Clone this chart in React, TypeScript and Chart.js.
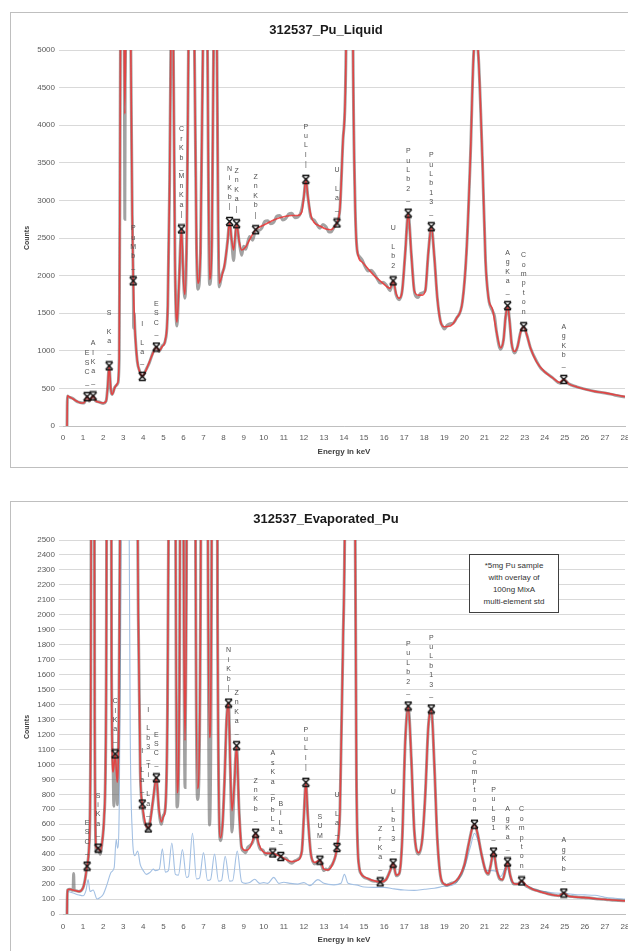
import React, { useEffect, useRef } from "react";
import { Chart, registerables } from "chart.js";

Chart.register(...registerables);

type Pt = [number, number];

const FONT = "'Liberation Sans', Arial, sans-serif";

// ---------- Top chart: 312537_Pu_Liquid ----------
const topTitle = "312537_Pu_Liquid";

const topFit: Pt[] = [
  [0.2, 0], [0.22, 400], [0.3, 390], [0.5, 360], [0.7, 330], [0.9, 305], [1.05, 310], [1.2, 390], [1.3, 340], [1.38, 350],
  [1.5, 400], [1.62, 340], [1.8, 315], [2.0, 305], [2.15, 330], [2.22, 500], [2.3, 800], [2.38, 500], [2.45, 420], [2.6, 520],
  [2.72, 570], [2.8, 900], [2.86, 5000], [2.95, 9000], [3.03, 6000], [3.08, 4150], [3.15, 6000], [3.25, 9000], [3.38, 5000],
  [3.45, 2800], [3.5, 1930], [3.58, 1300], [3.7, 870], [3.82, 720], [3.95, 660], [4.1, 720], [4.3, 850], [4.5, 980], [4.65, 1050],
  [4.78, 1000], [4.95, 1060], [5.1, 1150], [5.22, 1600], [5.3, 3000], [5.37, 5000], [5.43, 9000], [5.5, 5000], [5.58, 2200],
  [5.68, 1380], [5.78, 1900], [5.9, 2620], [6.0, 1950], [6.07, 1750], [6.17, 2600], [6.25, 5000], [6.4, 12000], [6.55, 5000],
  [6.65, 2400], [6.72, 1900], [6.85, 2300], [6.97, 5000], [7.08, 9000], [7.2, 5000], [7.3, 1950], [7.42, 2500], [7.5, 5000],
  [7.58, 9000], [7.67, 5000], [7.78, 1900], [7.92, 2000], [8.05, 2150], [8.2, 2450], [8.3, 2720], [8.4, 2480], [8.5, 2340],
  [8.65, 2690], [8.78, 2450], [8.9, 2340], [9.1, 2380], [9.3, 2480], [9.6, 2610], [9.9, 2660], [10.2, 2700], [10.5, 2740],
  [10.8, 2770], [11.1, 2790], [11.4, 2800], [11.7, 2800], [11.9, 2850], [12.0, 3050], [12.1, 3280], [12.2, 3050], [12.35, 2800],
  [12.5, 2710], [12.8, 2660], [13.1, 2620], [13.35, 2610], [13.55, 2660], [13.65, 2700], [13.8, 2900], [13.95, 3800], [14.1, 5000],
  [14.28, 15000], [14.45, 5000], [14.55, 3000], [14.65, 2350], [14.9, 2180], [15.2, 2090], [15.5, 2000], [15.8, 1930], [16.1, 1860],
  [16.3, 1830], [16.45, 1930], [16.6, 1760], [16.75, 1700], [16.9, 1800], [17.05, 2300], [17.2, 2830], [17.35, 2300], [17.5, 1800],
  [17.7, 1740], [17.9, 1740], [18.05, 1800], [18.2, 2300], [18.35, 2650], [18.5, 2250], [18.65, 1700], [18.8, 1400], [19.0, 1320],
  [19.3, 1330], [19.6, 1430], [19.9, 1650], [20.1, 2300], [20.3, 3600], [20.45, 4900], [20.57, 5200], [20.7, 4900], [20.9, 3500],
  [21.05, 2200], [21.2, 1700], [21.4, 1550], [21.6, 1250], [21.8, 1040], [21.95, 1150], [22.05, 1450], [22.15, 1600], [22.25, 1400],
  [22.35, 1100], [22.5, 990], [22.65, 1060], [22.8, 1250], [22.95, 1320], [23.1, 1220], [23.3, 1030], [23.6, 850], [24.0, 720],
  [24.4, 640], [24.75, 580], [24.95, 620], [25.2, 560], [25.6, 520], [26.0, 490], [26.5, 460], [27.0, 440], [27.5, 415], [28.0, 390],
];

const topMeasured: Pt[] = [
  [0.2, 0], [0.22, 400], [0.3, 385], [0.5, 365], [0.7, 325], [0.9, 310], [1.05, 305], [1.2, 390], [1.3, 330], [1.38, 355],
  [1.5, 400], [1.62, 335], [1.8, 320], [2.0, 300], [2.15, 335], [2.22, 500], [2.3, 800], [2.38, 480], [2.45, 420], [2.6, 525],
  [2.72, 560], [2.8, 900], [2.86, 5000], [2.95, 9000], [3.03, 6000], [3.06, 4500], [3.08, 2750], [3.1, 4500], [3.15, 6000],
  [3.25, 9000], [3.38, 5000], [3.45, 2800], [3.5, 1930], [3.52, 1300], [3.55, 1500], [3.58, 1300], [3.7, 860], [3.82, 730],
  [3.95, 650], [4.1, 730], [4.3, 840], [4.5, 990], [4.65, 1050], [4.78, 990], [4.95, 1070], [5.1, 1140], [5.22, 1600], [5.3, 3000],
  [5.37, 5000], [5.43, 9000], [5.5, 5000], [5.58, 2200], [5.68, 1330], [5.78, 1900], [5.9, 2620], [6.0, 1950], [6.07, 1700],
  [6.17, 2600], [6.25, 5000], [6.4, 12000], [6.55, 5000], [6.65, 2400], [6.72, 1820], [6.85, 2300], [6.97, 5000], [7.08, 9000],
  [7.2, 5000], [7.3, 1880], [7.42, 2500], [7.5, 5000], [7.58, 9000], [7.67, 5000], [7.78, 1850], [7.92, 2020], [8.05, 2130],
  [8.2, 2460], [8.3, 2720], [8.4, 2470], [8.5, 2200], [8.58, 2500], [8.65, 2690], [8.78, 2440], [8.9, 2270], [9.0, 2390],
  [9.1, 2350], [9.2, 2440], [9.3, 2520], [9.45, 2470], [9.6, 2610], [9.75, 2600], [9.9, 2630], [10.05, 2720], [10.2, 2730],
  [10.35, 2690], [10.5, 2710], [10.65, 2790], [10.8, 2800], [10.95, 2740], [11.1, 2760], [11.25, 2820], [11.4, 2830], [11.55, 2770],
  [11.7, 2780], [11.85, 2840], [12.0, 3050], [12.1, 3280], [12.2, 3050], [12.35, 2780], [12.5, 2740], [12.65, 2680], [12.8, 2630],
  [12.95, 2680], [13.1, 2650], [13.25, 2580], [13.35, 2580], [13.5, 2640], [13.65, 2700], [13.8, 2900], [13.95, 3800], [14.1, 5000],
  [14.28, 15000], [14.45, 5000], [14.55, 3000], [14.65, 2350], [14.75, 2260], [14.9, 2210], [15.05, 2120], [15.2, 2060],
  [15.35, 2070], [15.5, 2030], [15.65, 1960], [15.8, 1900], [15.95, 1910], [16.1, 1880], [16.3, 1800], [16.45, 1930], [16.6, 1740],
  [16.75, 1680], [16.9, 1800], [17.05, 2300], [17.2, 2830], [17.35, 2300], [17.5, 1800], [17.6, 1720], [17.7, 1710], [17.8, 1760],
  [17.9, 1770], [18.05, 1800], [18.2, 2300], [18.35, 2650], [18.5, 2250], [18.65, 1700], [18.8, 1400], [18.9, 1330], [19.0, 1290],
  [19.15, 1340], [19.3, 1360], [19.45, 1370], [19.6, 1430], [19.9, 1650], [20.1, 2300], [20.3, 3600], [20.45, 4900], [20.57, 5200],
  [20.7, 4900], [20.9, 3500], [21.05, 2200], [21.2, 1700], [21.4, 1530], [21.5, 1460], [21.6, 1250], [21.8, 1020], [21.95, 1150],
  [22.05, 1450], [22.15, 1600], [22.25, 1400], [22.35, 1100], [22.5, 970], [22.65, 1060], [22.8, 1250], [22.95, 1320], [23.1, 1220],
  [23.3, 1030], [23.6, 860], [23.8, 770], [24.0, 720], [24.2, 680], [24.4, 640], [24.75, 570], [24.95, 620], [25.2, 560], [25.6, 520],
  [26.0, 490], [26.5, 460], [27.0, 440], [27.5, 410], [28.0, 385],
];

const topPeakE = [1.2, 1.5, 2.3, 3.5, 3.95, 4.65, 5.9, 8.3, 8.65, 9.6, 12.1, 13.65, 16.45, 17.2, 18.35, 22.15, 22.95, 24.95];
const topPeakC = [390, 400, 800, 1930, 660, 1050, 2620, 2720, 2690, 2610, 3280, 2700, 1930, 2830, 2650, 1600, 1320, 620];
const topPeakLabel = [
  "ESC_", "AlKa_", "S Ka_", "PuMb_", "I La_", "ESC_", "CrKb_MnKa|", "NiKb|", "ZnKa|", "ZnKb|", "PuLl|",
  "U La_", "U Lb2", "PuLb2_", "PuLb13_", "AgKa_", "Compton", "AgKb_",
];

// ---------- Bottom chart: 312537_Evaporated_Pu ----------
const botTitle = "312537_Evaporated_Pu";

const botFit: Pt[] = [
  [0.2, 0], [0.22, 160], [0.35, 165], [0.5, 160], [0.65, 155], [0.8, 150], [1.0, 175], [1.1, 230], [1.2, 320], [1.3, 450],
  [1.38, 1300], [1.48, 9000], [1.58, 1300], [1.66, 440], [1.75, 440], [1.85, 420], [1.95, 480], [2.05, 650], [2.15, 1500],
  [2.3, 12000], [2.42, 1600], [2.5, 950], [2.6, 1070], [2.7, 880], [2.78, 1300], [2.85, 2800], [3.0, 12000], [3.25, 12000],
  [3.5, 9000], [3.65, 4000], [3.75, 2000], [3.85, 950], [3.95, 735], [4.05, 640], [4.15, 585], [4.25, 575], [4.35, 620], [4.5, 780],
  [4.65, 910], [4.78, 700], [4.9, 615], [5.0, 650], [5.1, 710], [5.2, 1300], [5.3, 3500], [5.45, 12000], [5.6, 3000], [5.68, 810],
  [5.8, 1500], [5.92, 6000], [6.02, 2000], [6.08, 1160], [6.15, 2200], [6.4, 15000], [6.6, 2600], [6.7, 840], [6.85, 2000],
  [7.05, 12000], [7.22, 2500], [7.3, 1180], [7.4, 2200], [7.55, 12000], [7.7, 2000], [7.85, 510], [7.95, 600], [8.05, 900],
  [8.15, 1300], [8.25, 1410], [8.33, 1000], [8.42, 690], [8.53, 850], [8.65, 1125], [8.77, 700], [8.9, 450], [9.1, 425], [9.3, 440],
  [9.45, 490], [9.6, 540], [9.75, 470], [9.95, 420], [10.2, 405], [10.45, 408], [10.65, 395], [10.85, 385], [11.1, 365], [11.4, 350],
  [11.7, 360], [11.9, 420], [12.0, 650], [12.1, 880], [12.2, 650], [12.35, 400], [12.55, 345], [12.8, 360], [13.0, 300], [13.2, 295],
  [13.45, 340], [13.65, 445], [13.8, 700], [13.95, 1800], [14.05, 2800], [14.3, 12000], [14.55, 2800], [14.62, 900], [14.75, 320],
  [15.0, 250], [15.4, 225], [15.8, 215], [16.1, 230], [16.3, 290], [16.45, 340], [16.6, 260], [16.75, 270], [16.9, 500], [17.05, 1150],
  [17.2, 1390], [17.35, 1050], [17.5, 560], [17.72, 410], [17.9, 500], [18.05, 800], [18.2, 1250], [18.35, 1370], [18.5, 1000],
  [18.65, 500], [18.85, 230], [19.1, 195], [19.4, 205], [19.7, 240], [20.0, 330], [20.2, 460], [20.4, 580], [20.5, 600], [20.65, 540],
  [20.85, 400], [21.05, 290], [21.2, 270], [21.3, 320], [21.45, 414], [21.6, 300], [21.75, 240], [21.9, 230], [22.05, 300],
  [22.15, 348], [22.28, 260], [22.45, 205], [22.65, 200], [22.85, 221], [23.05, 195], [23.4, 165], [23.8, 148], [24.3, 130],
  [24.7, 122], [24.95, 140], [25.2, 118], [25.7, 112], [26.2, 108], [26.7, 100], [27.2, 95], [27.7, 90], [28.0, 88],
];

const botMeasured: Pt[] = [
  [0.2, 0], [0.22, 160], [0.35, 165], [0.5, 158], [0.53, 270], [0.56, 158], [0.65, 155], [0.8, 150], [1.0, 175], [1.1, 230],
  [1.2, 320], [1.3, 450], [1.38, 1300], [1.48, 9000], [1.58, 1300], [1.66, 420], [1.75, 440], [1.85, 400], [1.95, 480], [2.05, 650],
  [2.15, 1500], [2.3, 12000], [2.42, 1600], [2.5, 950], [2.53, 720], [2.56, 1000], [2.6, 1070], [2.66, 950], [2.7, 730], [2.74, 1000],
  [2.78, 1300], [2.85, 2800], [3.0, 12000], [3.25, 12000], [3.5, 9000], [3.65, 4000], [3.75, 2000], [3.85, 950], [3.95, 735],
  [4.05, 620], [4.15, 590], [4.25, 560], [4.35, 630], [4.5, 770], [4.65, 910], [4.78, 690], [4.9, 600], [5.0, 660], [5.1, 710],
  [5.2, 1300], [5.3, 3500], [5.45, 12000], [5.6, 3000], [5.68, 715], [5.8, 1500], [5.92, 6000], [6.02, 2000], [6.08, 845],
  [6.15, 2200], [6.4, 15000], [6.6, 2600], [6.7, 765], [6.85, 2000], [7.05, 12000], [7.22, 2500], [7.3, 595], [7.4, 2200],
  [7.55, 12000], [7.7, 2000], [7.85, 490], [7.95, 600], [8.05, 900], [8.15, 1300], [8.25, 1410], [8.33, 1000], [8.42, 548],
  [8.53, 850], [8.65, 1125], [8.77, 700], [8.9, 440], [9.0, 420], [9.1, 410], [9.2, 445], [9.3, 455], [9.45, 480], [9.6, 540],
  [9.75, 460], [9.85, 430], [9.95, 430], [10.1, 395], [10.2, 410], [10.35, 400], [10.45, 408], [10.55, 385], [10.65, 400],
  [10.85, 385], [10.95, 370], [11.1, 375], [11.25, 350], [11.4, 340], [11.55, 355], [11.7, 365], [11.9, 420], [12.0, 650],
  [12.1, 880], [12.2, 650], [12.35, 400], [12.45, 350], [12.55, 335], [12.65, 345], [12.8, 360], [12.9, 320], [13.0, 290],
  [13.1, 300], [13.2, 295], [13.35, 320], [13.45, 340], [13.65, 445], [13.8, 700], [13.95, 1800], [14.05, 2800], [14.3, 12000],
  [14.55, 2800], [14.62, 900], [14.75, 320], [14.85, 270], [15.0, 245], [15.2, 235], [15.4, 222], [15.6, 218], [15.8, 212],
  [16.1, 232], [16.3, 290], [16.45, 340], [16.6, 255], [16.75, 270], [16.9, 500], [17.05, 1150], [17.2, 1390], [17.35, 1050],
  [17.5, 560], [17.72, 400], [17.9, 500], [18.05, 800], [18.2, 1250], [18.35, 1370], [18.5, 1000], [18.65, 500], [18.85, 225],
  [19.0, 200], [19.1, 192], [19.25, 200], [19.4, 208], [19.55, 215], [19.7, 238], [19.85, 270], [20.0, 330], [20.2, 460],
  [20.4, 580], [20.5, 600], [20.65, 540], [20.85, 400], [21.05, 290], [21.2, 265], [21.3, 320], [21.45, 414], [21.6, 300],
  [21.75, 235], [21.9, 228], [22.05, 300], [22.15, 348], [22.28, 260], [22.45, 200], [22.65, 200], [22.85, 221], [23.05, 190],
  [23.25, 175], [23.4, 165], [23.6, 158], [23.8, 148], [24.05, 140], [24.3, 130], [24.5, 126], [24.7, 122], [24.95, 140],
  [25.2, 118], [25.45, 116], [25.7, 112], [25.95, 110], [26.2, 108], [26.45, 104], [26.7, 100], [26.95, 98], [27.2, 95],
  [27.45, 92], [27.7, 90], [28.0, 88],
];

const botStandard: Pt[] = [
  [0.2, 0], [0.22, 150], [0.5, 140], [0.8, 127], [1.0, 122], [1.15, 160], [1.25, 230], [1.35, 150], [1.5, 160], [1.7, 100],
  [1.85, 110], [2.0, 130], [2.2, 200], [2.4, 280], [2.55, 310], [2.65, 500], [2.72, 440], [2.8, 700], [2.88, 2000], [3.0, 6000],
  [3.15, 9000], [3.28, 3000], [3.35, 1200], [3.45, 550], [3.58, 390], [3.72, 420], [3.85, 330], [4.0, 290], [4.15, 265], [4.35, 280],
  [4.5, 300], [4.6, 290], [4.8, 300], [4.95, 435], [5.1, 280], [5.25, 290], [5.42, 475], [5.6, 265], [5.75, 260], [5.95, 430],
  [6.15, 245], [6.25, 250], [6.45, 540], [6.65, 235], [6.8, 240], [7.0, 410], [7.2, 225], [7.35, 230], [7.55, 400], [7.75, 220],
  [7.9, 225], [8.08, 385], [8.3, 220], [8.45, 222], [8.68, 420], [8.9, 215], [9.1, 205], [9.3, 210], [9.55, 232], [9.8, 205],
  [10.0, 210], [10.2, 205], [10.5, 245], [10.75, 205], [11.0, 212], [11.3, 205], [11.7, 200], [12.0, 210], [12.3, 190], [12.7, 230],
  [13.0, 205], [13.5, 195], [13.85, 205], [14.02, 265], [14.2, 205], [14.6, 195], [15.0, 180], [15.5, 178], [16.0, 178], [16.5, 168],
  [17.0, 160], [17.5, 158], [18.0, 165], [18.5, 172], [19.0, 185], [19.5, 198], [20.0, 310], [20.3, 450], [20.5, 540], [20.7, 480],
  [20.9, 360], [21.1, 290], [21.4, 290], [21.6, 285], [21.8, 250], [22.1, 320], [22.35, 215], [22.7, 200], [23.0, 195], [23.5, 165],
  [24.0, 150], [24.5, 140], [25.0, 138], [25.5, 130], [26.0, 128], [26.5, 125], [27.0, 112], [27.5, 105], [28.0, 100],
];

const botPeakE = [1.2, 1.75, 2.6, 3.95, 4.25, 4.65, 8.25, 8.65, 9.6, 10.45, 10.85, 12.1, 12.8, 13.65, 15.8, 16.45, 17.2, 18.35, 20.5, 21.45, 22.15, 22.85, 24.95];
const botPeakC = [320, 440, 1070, 735, 575, 910, 1410, 1125, 540, 408, 385, 880, 360, 445, 215, 340, 1390, 1370, 600, 414, 348, 221, 140];
const botPeakLabel = [
  "ESC_", "SiKa_", "ClKa_", "I La_", "I Lb3_Ti La_", "ESC_", "NiKb|", "ZnKa_", "ZnKb_", "AsKa_PbLa_", "BiLa_",
  "PuLl|", "SUM_", "U La_", "ZrKa_", "U Lb13_", "PuLb2_", "PuLb13_", "Compton", "PuLg1_", "AgKa_", "Compton", "AgKb_",
];

const noteLines = ["*5mg Pu sample", "with overlay of", "100ng MixA", "multi-element std"];

const xAxisTitle = "Energy in keV";
const yAxisTitle = "Counts";

// ---------- helpers ----------
function makeMarker(): HTMLCanvasElement {
  const c = document.createElement("canvas");
  c.width = 11;
  c.height = 11;
  const g = c.getContext("2d")!;
  g.strokeStyle = "#111";
  g.lineWidth = 1.4;
  g.beginPath();
  g.moveTo(2, 2);
  g.lineTo(9, 9);
  g.moveTo(9, 2);
  g.lineTo(2, 9);
  g.moveTo(2, 1.5);
  g.lineTo(9, 1.5);
  g.moveTo(2, 9.5);
  g.lineTo(9, 9.5);
  g.stroke();
  return c;
}

function makeLabelPlugin(es: number[], cs: number[], labels: string[]) {
  return {
    id: "peakLabels",
    afterDatasetsDraw(chart: any) {
      const { ctx, scales } = chart;
      const xs = scales.x;
      const ys = scales.y;
      ctx.save();
      ctx.font = `7px ${FONT}`;
      ctx.fillStyle = "#505050";
      ctx.textAlign = "center";
      ctx.textBaseline = "middle";
      for (let i = 0; i < es.length; i++) {
        const px = xs.getPixelForValue(es[i]);
        const py = ys.getPixelForValue(cs[i]);
        const chars = Array.from(labels[i]);
        const n = chars.length;
        for (let k = 0; k < n; k++) {
          const cy = py - 15 - (n - 1 - k) * 9.4;
          ctx.fillText(chars[k], px, cy);
        }
      }
      ctx.restore();
    },
  };
}

function lineDs(pts: Pt[], color: string, width: number) {
  return {
    type: "line",
    data: pts.map(([x, y]) => ({ x, y })),
    borderColor: color,
    borderWidth: width,
    pointRadius: 0,
    fill: false,
    cubicInterpolationMode: "monotone",
  };
}

function buildConfig(opts: {
  fit: Pt[];
  measured: Pt[];
  standard?: Pt[];
  peakE: number[];
  peakC: number[];
  peakLabel: string[];
  yMax: number;
  yStep: number;
  padTop: number;
  xHeight: number;
  xTickPad: number;
  xTitlePadBottom: number;
  marker: HTMLCanvasElement;
}) {
  const datasets: any[] = [
    {
      type: "line",
      data: opts.peakE.map((e, i) => ({ x: e, y: opts.peakC[i] })),
      showLine: false,
      pointStyle: opts.marker,
      pointRadius: 5,
      borderColor: "#000",
      backgroundColor: "#000",
    },
    lineDs(opts.fit, "rgba(236,52,52,0.85)", 1.6),
    lineDs(opts.measured, "rgba(100,100,100,0.6)", 3),
  ];
  if (opts.standard) datasets.push(lineDs(opts.standard, "#a3c0e3", 1.1));

  return {
    type: "line",
    data: { datasets },
    options: {
      responsive: false,
      animation: false,
      events: [],
      layout: { padding: { left: 0, right: 15, top: opts.padTop, bottom: 0 } },
      plugins: {
        legend: { display: false },
        tooltip: { enabled: false },
        title: { display: false },
      },
      scales: {
        x: {
          type: "linear",
          min: 0,
          max: 28,
          grid: { display: false, drawTicks: false },
          border: { display: true, color: "#bfbfbf", width: 1 },
          ticks: {
            stepSize: 1,
            autoSkip: false,
            maxRotation: 0,
            padding: opts.xTickPad,
            font: { size: 8, family: FONT },
            color: "#595959",
            callback: (v: any) => String(v),
          },
          title: {
            display: true,
            text: xAxisTitle,
            font: { size: 8, weight: "bold", family: FONT },
            color: "#404040",
            padding: { top: 0, bottom: opts.xTitlePadBottom },
          },
          afterFit: (s: any) => {
            s.height = opts.xHeight;
          },
        },
        y: {
          type: "linear",
          min: 0,
          max: opts.yMax,
          grid: { color: "#d9d9d9", lineWidth: 1, drawTicks: true, tickLength: 4 },
          border: { display: false },
          ticks: {
            stepSize: opts.yStep,
            autoSkip: false,
            padding: 4,
            font: { size: 8, family: FONT },
            color: "#595959",
            callback: (v: any) => String(v),
          },
          title: {
            display: true,
            text: yAxisTitle,
            font: { size: 7, weight: "bold", family: FONT },
            color: "#404040",
            padding: { top: 12.8, bottom: 0 },
          },
          afterFit: (s: any) => {
            s.width = 53;
          },
        },
      },
    },
    plugins: [makeLabelPlugin(opts.peakE, opts.peakC, opts.peakLabel)],
  };
}

export default function App() {
  const topRef = useRef<HTMLCanvasElement>(null);
  const botRef = useRef<HTMLCanvasElement>(null);

  useEffect(() => {
    Chart.defaults.font.family = FONT;
    const marker = makeMarker();
    const top = new Chart(
      topRef.current!,
      buildConfig({
        fit: topFit,
        measured: topMeasured,
        peakE: topPeakE,
        peakC: topPeakC,
        peakLabel: topPeakLabel,
        yMax: 5000,
        yStep: 500,
        padTop: 38,
        xHeight: 41,
        xTickPad: 7,
        xTitlePadBottom: 10.2,
        marker,
      }) as any
    );
    const bot = new Chart(
      botRef.current!,
      buildConfig({
        fit: botFit,
        measured: botMeasured,
        standard: botStandard,
        peakE: botPeakE,
        peakC: botPeakC,
        peakLabel: botPeakLabel,
        yMax: 2500,
        yStep: 100,
        padTop: 39,
        xHeight: 37,
        xTickPad: 8,
        xTitlePadBottom: 6.2,
        marker,
      }) as any
    );
    return () => {
      top.destroy();
      bot.destroy();
    };
  }, []);

  const frame: React.CSSProperties = {
    position: "absolute",
    left: 10,
    width: 632,
    border: "1px solid #bfbfbf",
    boxSizing: "border-box",
    background: "#fff",
  };
  const titleStyle: React.CSSProperties = {
    position: "absolute",
    left: 10,
    width: 632,
    height: 16,
    lineHeight: "16px",
    textAlign: "center",
    fontFamily: FONT,
    fontWeight: "bold",
    fontSize: 13,
    color: "#1a1a1a",
  };

  return (
    <div
      style={{
        position: "absolute",
        left: 0,
        top: 0,
        width: 628,
        height: 951,
        overflow: "hidden",
        background: "#fff",
      }}
    >
      <div style={{ ...frame, top: 12, height: 456 }} />
      <canvas ref={topRef} width={630} height={455} style={{ position: "absolute", left: 10, top: 12 }} />
      <div style={{ ...titleStyle, top: 22 }}>{topTitle}</div>

      <div style={{ ...frame, top: 501, height: 470 }} />
      <canvas ref={botRef} width={630} height={450} style={{ position: "absolute", left: 10, top: 501 }} />
      <div style={{ ...titleStyle, top: 511 }}>{botTitle}</div>

      <div
        style={{
          position: "absolute",
          left: 469,
          top: 554,
          width: 90,
          height: 59,
          boxSizing: "border-box",
          border: "1px solid #404040",
          background: "#fff",
          paddingTop: 5,
          textAlign: "center",
          fontFamily: FONT,
          fontSize: 8,
          lineHeight: "12px",
          color: "#333",
        }}
      >
        {noteLines.map((l, i) => (
          <div key={i}>{l}</div>
        ))}
      </div>
    </div>
  );
}
